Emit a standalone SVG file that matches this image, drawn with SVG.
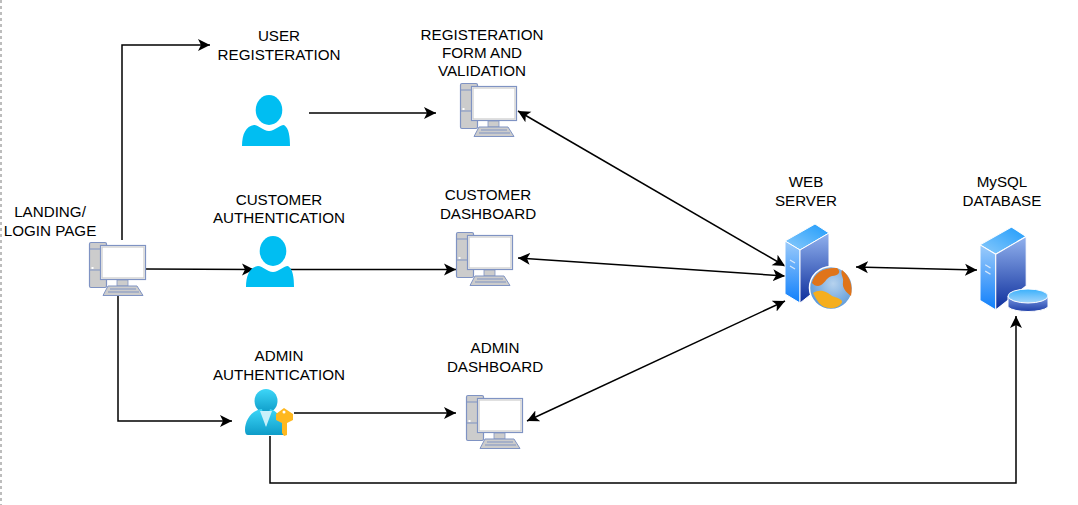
<svg xmlns="http://www.w3.org/2000/svg" width="1078" height="505" viewBox="0 0 1078 505">
<style>
text{font-family:"Liberation Sans",Arial,sans-serif;font-size:15.2px;fill:#000;text-anchor:middle}
.c{fill:none;stroke:#000;stroke-width:1.5}
.p{fill:#00BEF2}
</style>
<defs>
<marker id="a" markerUnits="userSpaceOnUse" markerWidth="13" markerHeight="13" refX="12" refY="6.500" orient="auto-start-reverse" viewBox="0 0 13 13"><path d="M0 .5L12 6.500 0 12.500 3 6.500z" fill="#000"/></marker>
<linearGradient id="gl" x1="0" y1="0" x2="0" y2="1"><stop offset="0" stop-color="#9CCBFA"/><stop offset="1" stop-color="#0F7FFB"/></linearGradient>
<linearGradient id="gr" x1="0" y1="0" x2="0" y2="1"><stop offset="0" stop-color="#92B2EE"/><stop offset="1" stop-color="#0D2E9C"/></linearGradient>
<linearGradient id="gt" x1="0" y1="1" x2="1" y2="0"><stop offset="0" stop-color="#8CCBFB"/><stop offset="1" stop-color="#1E9BFB"/></linearGradient>
<linearGradient id="gd" x1="0" y1="0" x2="0" y2="1"><stop offset="0" stop-color="#7C9CE4"/><stop offset="1" stop-color="#1F3FA8"/></linearGradient>
<linearGradient id="gdt" x1="0" y1="0" x2="0" y2="1"><stop offset="0" stop-color="#3AB0FB"/><stop offset="1" stop-color="#A5D6FB"/></linearGradient>
<linearGradient id="ga" x1="0" y1="0" x2="0" y2="1"><stop offset="0" stop-color="#3DD6F8"/><stop offset="1" stop-color="#0E9CC8"/></linearGradient>
<radialGradient id="gg" cx=".55" cy=".4" r=".7"><stop offset="0" stop-color="#B6D2EE"/><stop offset="1" stop-color="#4D90D6"/></radialGradient>
<g id="pc">
<rect x=".5" y=".5" width="17" height="45" rx="1.500" fill="#CCC" stroke="#7F93C3" stroke-width="1.200"/>
<path d="M.5 7H18M.5 28H18" stroke="#7F93C3" stroke-width="1"/>
<rect x="2.500" y="25" width="2" height="2" fill="#fff"/>
<rect x="11.500" y="3.500" width="45" height="34" fill="#fff" stroke="#7F93C3" stroke-width="1.200"/>
<rect x="13" y="5" width="42" height="31" fill="#fff" stroke="#CCC" stroke-width="1.200"/>
<rect x="28" y="38" width="11" height="6" fill="#CCC" stroke="#7F93C3" stroke-width=".8"/>
<path d="M19 44H48L54 53.500H14z" fill="#CCC" stroke="#7F93C3" stroke-width="1"/>
<path d="M21 47H47M19 50H50" stroke="#7F93C3" stroke-width="1"/>
</g>
<g id="user">
<ellipse cx="27" cy="15" rx="13.300" ry="15" class="p"/>
<path d="M0 51C0 39 4 31 12 30C17 30 21 36 27 36C33 36 37 30 42 30C47 33 48 42 48 51z" class="p"/>
</g>
<g id="tower">
<path d="M0 17L30 0 44 9 15 26z" fill="url(#gt)" stroke="#fff" stroke-width="1"/>
<path d="M0 17L15 26V79L0 70z" fill="url(#gl)" stroke="#fff" stroke-width="1"/>
<path d="M15 26L44 9V56L15 79z" fill="url(#gr)" stroke="#fff" stroke-width="1"/>
<path d="M5 36L10 39M5 42L10 45" stroke="#D8E8FB" stroke-width="1.200"/>
</g>
</defs>
<path d="M1 0V505" stroke="#BDBDBD" stroke-width="2" stroke-dasharray="3 3" fill="none"/>
<g id="connectors">
<path class="c" marker-end="url(#a)" d="M122 240V45H210"/>
<path class="c" marker-end="url(#a)" d="M309 113H436"/>
<path class="c" marker-end="url(#a)" d="M146 269L254 269.500"/>
<path class="c" marker-end="url(#a)" d="M290 269.500H456"/>
<path class="c" marker-end="url(#a)" d="M118 295V421H232"/>
<path class="c" marker-end="url(#a)" d="M294 413H456"/>
<path class="c" marker-end="url(#a)" d="M270 436V483H1016V316"/>
<path class="c" marker-start="url(#a)" marker-end="url(#a)" d="M518 111L785 266"/>
<path class="c" marker-start="url(#a)" marker-end="url(#a)" d="M518 258L785 276"/>
<path class="c" marker-start="url(#a)" marker-end="url(#a)" d="M527 421L785 301"/>
<path class="c" marker-start="url(#a)" marker-end="url(#a)" d="M856 267L977 270"/>
</g>
<g id="landing"><use href="#pc" x="89" y="242"/><text x="50" y="217">LANDING/</text><text x="50" y="236">LOGIN PAGE</text></g>
<g id="user-registration"><use href="#user" x="242" y="95"/><text x="279" y="41">USER</text><text x="279" y="60">REGISTERATION</text></g>
<g id="registration-form"><use href="#pc" x="460" y="83"/><text x="482" y="40">REGISTERATION</text><text x="482" y="58">FORM AND</text><text x="482" y="76">VALIDATION</text></g>
<g id="customer-authentication"><use href="#user" x="246" y="236"/><text x="279" y="205">CUSTOMER</text><text x="279" y="223">AUTHENTICATION</text></g>
<g id="customer-dashboard"><use href="#pc" x="456" y="232"/><text x="488" y="200">CUSTOMER</text><text x="488" y="219">DASHBOARD</text></g>
<g id="admin-authentication">
<ellipse cx="266" cy="401" rx="11.500" ry="12" fill="url(#ga)"/>
<path d="M245 430C245 420 252 410 262 409L266 426 270 409C276 410 283 418 285 430V435H248Q245 435 245 430z" fill="url(#ga)"/>
<path d="M260 411H272L266 427z" fill="#C8F0FA"/>
<path d="M284 408L293 414V420L287 423V435L284 436 282 433V423L276 420V414z" fill="#FFB81F"/>
<circle cx="284" cy="412" r="1.500" fill="#fff"/>
<text x="279" y="361">ADMIN</text><text x="279" y="380">AUTHENTICATION</text>
</g>
<g id="admin-dashboard"><use href="#pc" x="466" y="395"/><text x="495" y="353">ADMIN</text><text x="495" y="372">DASHBOARD</text></g>
<g id="web-server"><use href="#tower" x="785" y="224"/>
<circle cx="831" cy="288" r="21.500" fill="url(#gg)" stroke="#fff" stroke-width="1.500"/>
<path d="M812 283C814 273 824 267 837 268C842 272 838 276 832 276C826 277 824 286 818 286C815 286 814 285 812 283zM842 270C850 276 853 286 851 296C846 292 842 288 843 282C844 278 840 274 842 270z" fill="#E0741A"/>
<path d="M813 293C820 288 828 292 832 296C838 298 846 300 840 305C834 310 824 309 819 303C817 300 815 297 813 293z" fill="#F5AE1E"/>
<text x="806" y="187">WEB</text><text x="806" y="206">SERVER</text></g>
<g id="mysql-database"><use href="#tower" transform="translate(980 227) scale(1.050)"/>
<path d="M1008 296V307C1014 313 1042 313 1048 307V296z" fill="url(#gd)" stroke="#fff" stroke-width="1"/>
<ellipse cx="1028" cy="296" rx="20" ry="7" fill="url(#gdt)" stroke="#fff" stroke-width="1"/>
<text x="1002" y="187">MySQL</text><text x="1002" y="206">DATABASE</text></g>
</svg>
